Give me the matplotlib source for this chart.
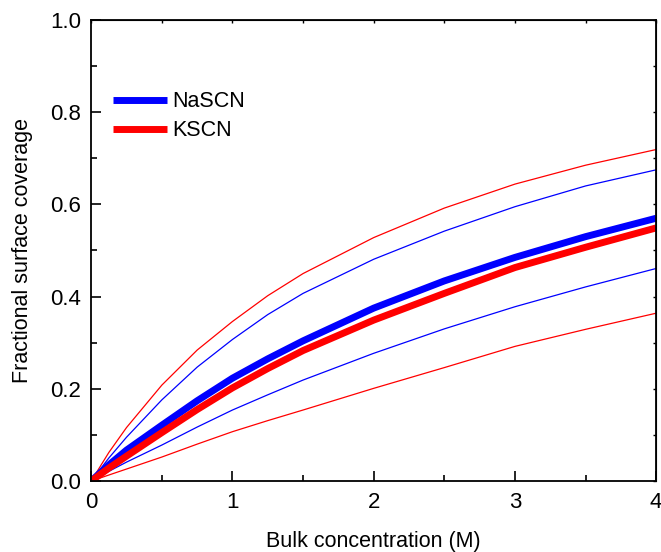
import matplotlib
matplotlib.use("Agg")
import matplotlib.pyplot as plt
from matplotlib.ticker import MultipleLocator, NullFormatter

plt.rcParams['font.family'] = ['Liberation Sans', 'DejaVu Sans']

# bulk concentration (M)
conc = [0.0, 0.125, 0.25, 0.5, 0.75, 1.0, 1.25, 1.5, 2.0, 2.5, 3.0, 3.5, 4.0]

# fitted coverage (thick) with upper/lower bounds (thin)
na_fit = [0.0, 0.035, 0.067, 0.121, 0.174, 0.223, 0.265, 0.304, 0.375, 0.434, 0.485, 0.530, 0.570]
na_hi = [0.0, 0.050, 0.095, 0.176, 0.247, 0.307, 0.361, 0.407, 0.481, 0.542, 0.595, 0.640, 0.675]
na_lo = [0.0, 0.021, 0.041, 0.078, 0.117, 0.154, 0.187, 0.219, 0.277, 0.330, 0.378, 0.421, 0.461]

k_fit = [0.0, 0.028, 0.054, 0.105, 0.155, 0.202, 0.244, 0.283, 0.349, 0.407, 0.463, 0.507, 0.549]
k_hi = [0.0, 0.062, 0.116, 0.208, 0.284, 0.346, 0.402, 0.450, 0.528, 0.592, 0.644, 0.685, 0.719]
k_lo = [0.0, 0.013, 0.026, 0.052, 0.080, 0.107, 0.131, 0.154, 0.201, 0.246, 0.292, 0.329, 0.364]

fig = plt.figure(figsize=(6.61, 5.52), dpi=100)
ax = fig.add_axes([0.1380, 0.1286, 0.8547, 0.8352])

ax.plot(conc, na_hi, color='#0000ff', lw=0.9)
ax.plot(conc, na_lo, color='#0000ff', lw=0.9)
ax.plot(conc, k_hi, color='#ff0000', lw=0.9)
ax.plot(conc, k_lo, color='#ff0000', lw=0.9)
ax.plot(conc, na_fit, color='#0000ff', lw=5, solid_capstyle='butt', label='NaSCN')
ax.plot(conc, k_fit, color='#ff0000', lw=5, solid_capstyle='butt', label='KSCN')

ax.set_xlim(0, 4)
ax.set_ylim(0, 1.0)
ax.xaxis.set_major_locator(MultipleLocator(1))
ax.xaxis.set_minor_locator(MultipleLocator(0.5))
ax.yaxis.set_major_locator(MultipleLocator(0.2))
ax.yaxis.set_minor_locator(MultipleLocator(0.1))
ax.yaxis.set_major_formatter(plt.FormatStrFormatter('%.1f'))

ax.tick_params(which='major', direction='in', length=7, width=1.2, labelsize=16)
ax.tick_params(axis='x', which='major', pad=8)
ax.tick_params(axis='y', which='major', pad=7)
ax.tick_params(which='minor', direction='in', length=4, width=1.2)
for s in ax.spines.values():
    s.set_linewidth(1.3)

# short ticks on the opposite sides
top = ax.secondary_xaxis('top')
top.xaxis.set_major_locator(MultipleLocator(0.5))
top.xaxis.set_major_formatter(NullFormatter())
top.tick_params(direction='in', length=2.5, width=1)
right = ax.secondary_yaxis('right')
right.yaxis.set_major_locator(MultipleLocator(0.1))
right.yaxis.set_major_formatter(NullFormatter())
right.tick_params(direction='in', length=2.5, width=1)

ax.set_xlabel('Bulk concentration (M)', fontsize=15.5)
ax.xaxis.set_label_coords(0.5, -0.108)
ax.set_ylabel('Fractional surface coverage', fontsize=15.5)
ax.yaxis.set_label_coords(-0.103, 0.5)

ax.legend(loc='upper left', bbox_to_anchor=(0.039, 0.845), frameon=False,
          fontsize=15.5, handlelength=2.5, handletextpad=0.23,
          labelspacing=0.36, borderpad=0, borderaxespad=0)

fig.savefig('out.png', dpi=100)
